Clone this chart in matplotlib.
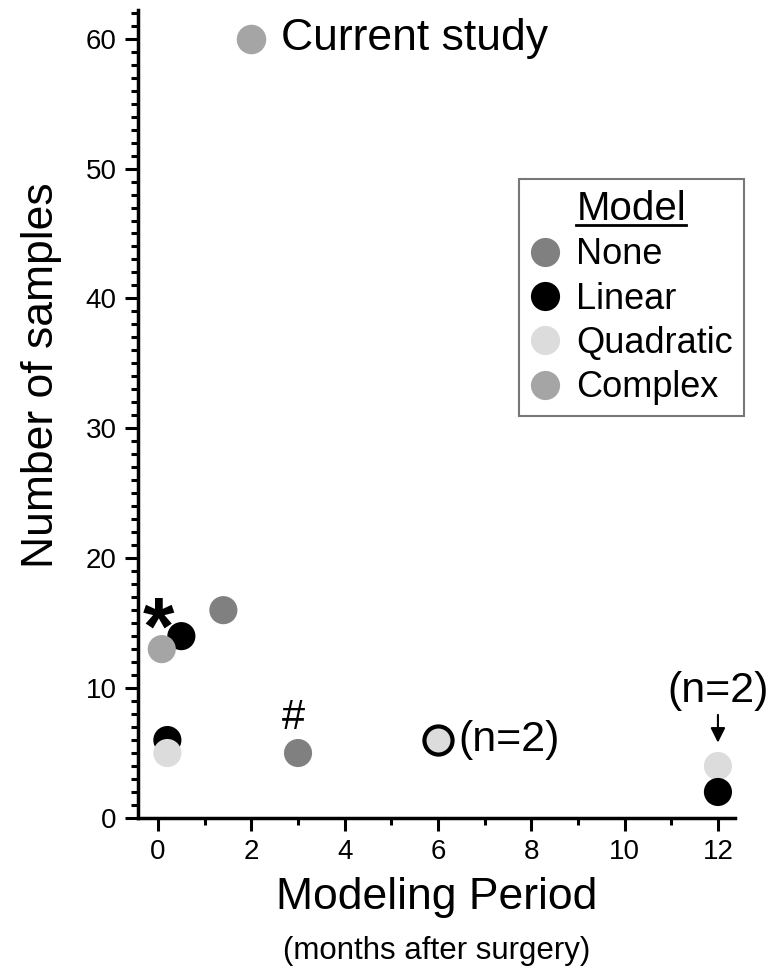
import matplotlib
matplotlib.use("Agg")
import matplotlib.pyplot as plt
from matplotlib.ticker import MultipleLocator
from matplotlib.lines import Line2D

plt.rcParams['font.family'] = ['Liberation Sans', 'DejaVu Sans']

# data
models = ['None', 'Linear', 'Quadratic', 'Complex']
colors = {'None': '#808080', 'Linear': '#000000', 'Quadratic': '#dcdcdc', 'Complex': '#a5a5a5'}

period = [0.08, 0.5, 1.4, 0.2, 0.2, 3, 6, 12, 12]
samples = [13, 14, 16, 6, 5, 5, 6, 4, 2]
model = ['Complex', 'Linear', 'None', 'Linear', 'Quadratic', 'None', 'Quadratic', 'Quadratic', 'Linear']
edged = [False, False, False, False, False, False, True, False, False]

current_x = [2]
current_y = [60]

fig = plt.figure(figsize=(7.73, 9.71), dpi=100)
ax = fig.add_axes([0.1785, 0.1576, 0.772, 0.832])

# the black point at 0.5 sits behind the grey one at 0.08
draw_order = [1, 0, 2, 3, 4, 5, 6, 7, 8]
for i in draw_order:
    ec = 'black' if edged[i] else 'none'
    lw = 3 if edged[i] else 0
    ax.scatter(period[i], samples[i], s=410, color=colors[model[i]],
               edgecolors=ec, linewidths=lw, zorder=3, clip_on=False)

ax.scatter(current_x, current_y, s=410, color=colors['Complex'], zorder=3, clip_on=False)
ax.text(current_x[0] + 0.64, current_y[0], 'Current study', fontsize=32,
        va='center', ha='left')

# annotations
ax.text(0.0, 14.3, '*', fontsize=58, fontweight='bold', ha='center', va='center')
ax.text(2.9, 6.85, '#', fontsize=30, ha='center', va='baseline')
ax.text(6.43, 6, '(n=2)', fontsize=31, ha='left', va='center')
ax.annotate('(n=2)', xy=(12, 5.8), xytext=(12, 9.8), fontsize=31,
            ha='center', va='center',
            arrowprops=dict(arrowstyle='-|>', color='black', lw=1.5,
                            mutation_scale=22, shrinkA=1, shrinkB=0))

ax.set_xlim(-0.43, 12.36)
ax.set_ylim(0, 62.2)
ax.xaxis.set_major_locator(MultipleLocator(2))
ax.xaxis.set_minor_locator(MultipleLocator(1))
ax.yaxis.set_major_locator(MultipleLocator(10))
ax.yaxis.set_minor_locator(MultipleLocator(1))
ax.tick_params(which='major', direction='out', length=9.5, width=2.2, labelsize=20, pad=6)
ax.tick_params(which='minor', direction='out', length=5, width=2.2)
for s in ['top', 'right']:
    ax.spines[s].set_visible(False)
for s in ['left', 'bottom']:
    ax.spines[s].set_linewidth(2.5)

ax.set_ylabel('Number of samples', fontsize=32)
ax.yaxis.set_label_coords(-0.128, 0.548)
ax.set_xlabel('Modeling Period', fontsize=32)
ax.xaxis.set_label_coords(0.5, -0.073)
fig.text(0.5655, 0.012, '(months after surgery)', fontsize=22.5, ha='center')

handles = [Line2D([], [], marker='o', linestyle='none', markersize=21,
                  markerfacecolor=colors[m], markeredgecolor='none') for m in models]
leg = ax.legend(handles, models, title='Model', loc='upper left',
                bbox_to_anchor=(0.638, 0.791), fontsize=26, title_fontsize=29,
                frameon=True, fancybox=False, edgecolor='#555555',
                handletextpad=0.47, borderpad=0.3, labelspacing=0.26,
                handlelength=0.83, borderaxespad=0)
leg.get_frame().set_linewidth(1.5)

# underline the legend title
fig.canvas.draw()
r = fig.canvas.get_renderer()
bb = leg.get_title().get_window_extent(r)
inv = fig.transFigure.inverted()
(x0, y0), (x1, _) = inv.transform([(bb.x0, bb.y0), (bb.x1, bb.y0)])
fig.add_artist(Line2D([x0, x1], [y0 + 0.003, y0 + 0.003], color='black', lw=2,
                      transform=fig.transFigure))

fig.savefig('out.png', dpi=100)
